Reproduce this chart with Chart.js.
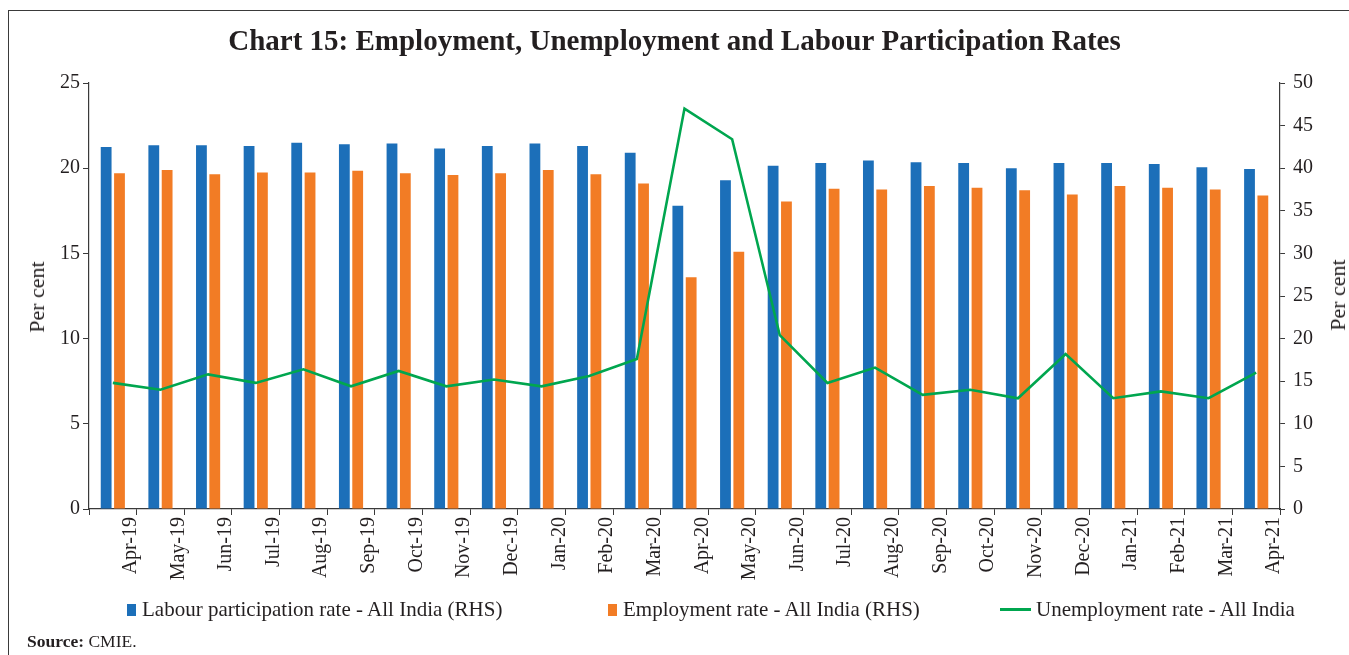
<!DOCTYPE html>
<html>
<head>
<meta charset="utf-8">
<title>Chart 15</title>
<script src="https://cdn.jsdelivr.net/npm/chart.js@4.4.1/dist/chart.umd.min.js"></script>
<style>
  html, body { margin: 0; padding: 0; background: #fff; }
  body { width: 1349px; height: 655px; position: relative; overflow: hidden;
         font-family: "Liberation Serif", "DejaVu Serif", serif; color: #231f20; }
  #frame { position: absolute; left: 8px; top: 10px; right: -2px; bottom: -2px;
           border-left: 1.5px solid #3a3a3a; border-top: 1.5px solid #3a3a3a; }
  #chart { position: absolute; left: 0; top: 0; }
  .axis-title { position: absolute; font-size: 22px; white-space: nowrap;
                transform: translate(-50%, -50%) rotate(-90deg); }
  #legend { position: absolute; top: 597px; left: 0; width: 1349px; height: 26px; font-size: 21px; }
  .item { position: absolute; top: 0; display: flex; align-items: center; white-space: nowrap; }
  .swatch { display: inline-block; margin-right: 6px; }
  #source { position: absolute; left: 27px; top: 631px; font-size: 17.5px; }
</style>
</head>
<body>
<div id="frame"></div>
<canvas id="chart" width="1349" height="655"></canvas>
<div class="axis-title" style="left:37px; top:297px;">Per cent</div>
<div class="axis-title" style="left:1338px; top:295px;">Per cent</div>
<div id="legend"></div>
<div id="source"><b>Source:</b> CMIE.</div>

<script>
// Monthly CMIE series, Apr-19 to Apr-21
const months = ['Apr-19', 'May-19', 'Jun-19', 'Jul-19', 'Aug-19', 'Sep-19', 'Oct-19', 'Nov-19',
  'Dec-19', 'Jan-20', 'Feb-20', 'Mar-20', 'Apr-20', 'May-20', 'Jun-20', 'Jul-20', 'Aug-20',
  'Sep-20', 'Oct-20', 'Nov-20', 'Dec-20', 'Jan-21', 'Feb-21', 'Mar-21', 'Apr-21'];

// right-hand scale
const labourParticipation = [42.5, 42.7, 42.7, 42.6, 43.0, 42.8, 42.9, 42.3, 42.6, 42.9, 42.6, 41.8,
  35.6, 38.6, 40.3, 40.6, 40.9, 40.7, 40.6, 40.0, 40.6, 40.6, 40.5, 40.1, 39.9];
const employmentRate = [39.4, 39.8, 39.3, 39.5, 39.5, 39.7, 39.4, 39.2, 39.4, 39.8, 39.3, 38.2,
  27.2, 30.2, 36.1, 37.6, 37.5, 37.9, 37.7, 37.4, 36.9, 37.9, 37.7, 37.5, 36.8];

// left-hand scale
const unemploymentRate = [7.4, 7.0, 7.9, 7.4, 8.2, 7.2, 8.1, 7.2, 7.6, 7.2, 7.8, 8.8,
  23.5, 21.7, 10.2, 7.4, 8.3, 6.7, 7.0, 6.5, 9.1, 6.5, 6.9, 6.5, 8.0];

const leftTicks = [0, 5, 10, 15, 20, 25];
const rightTicks = [0, 5, 10, 15, 20, 25, 30, 35, 40, 45, 50];

const BLUE = '#1c6fb9';
const ORANGE = '#f27c25';
const GREEN = '#00a64f';
const INK = '#231f20';
const AXIS = '#3a3a3a';
const tickFont = { family: "'Liberation Serif', serif", size: 20 };

const datasets = [
  {
    type: 'bar', label: 'Labour participation rate - All India (RHS)',
    data: labourParticipation, backgroundColor: BLUE, yAxisID: 'y1', order: 1,
    categoryPercentage: 0.56, barPercentage: 0.81
  },
  {
    type: 'bar', label: 'Employment rate - All India (RHS)',
    data: employmentRate, backgroundColor: ORANGE, yAxisID: 'y1', order: 2,
    categoryPercentage: 0.56, barPercentage: 0.81
  },
  {
    type: 'line', label: 'Unemployment rate - All India',
    data: unemploymentRate, borderColor: GREEN, backgroundColor: GREEN, borderWidth: 2.6,
    pointRadius: 0, tension: 0, yAxisID: 'y', order: 0
  }
];

const chart = new Chart(document.getElementById('chart'), {
  data: { labels: months, datasets: datasets },
  options: {
    responsive: false,
    animation: false,
    devicePixelRatio: 1,
    layout: { padding: 0 },
    plugins: {
      legend: { display: false },
      tooltip: { enabled: false },
      title: {
        display: true,
        text: 'Chart 15: Employment, Unemployment and Labour Participation Rates',
        color: INK,
        font: { family: "'Liberation Serif', serif", size: 29, weight: 'bold', lineHeight: 1.2 },
        padding: { top: 25.6, bottom: 22.6 }
      }
    },
    scales: {
      x: {
        offset: true,
        grid: { display: true, offset: true, drawOnChartArea: false, drawTicks: true, tickLength: 6, color: AXIS },
        border: { display: true, color: AXIS, width: 1.2 },
        ticks: {
          color: INK, font: tickFont, maxRotation: 90, minRotation: 90, autoSkip: false, padding: 2,
          // labels sit on the right-hand boundary of each month
          labelOffset: (ctx) => ctx.scale.width / months.length / 2 - 6
        },
        afterFit: (scale) => { scale.height = 146; }
      },
      y: {
        position: 'left', min: 0, max: 25,
        grid: { display: true, drawOnChartArea: false, drawTicks: true, tickLength: 6, color: AXIS },
        border: { display: true, color: AXIS, width: 1.2 },
        ticks: { color: INK, font: tickFont, padding: 3, stepSize: 5 },
        afterBuildTicks: (scale) => { scale.ticks = leftTicks.map(v => ({ value: v })); },
        afterFit: (scale) => { scale.width = 89; }
      },
      y1: {
        position: 'right', min: 0, max: 50,
        grid: { display: true, drawOnChartArea: false, drawTicks: true, tickLength: 5, color: AXIS },
        border: { display: true, color: AXIS, width: 1.2 },
        ticks: { color: INK, font: tickFont, padding: 8, stepSize: 5 },
        afterBuildTicks: (scale) => { scale.ticks = rightTicks.map(v => ({ value: v })); },
        afterFit: (scale) => { scale.width = 69; }
      }
    }
  }
});

// legend built from the chart's own datasets
const legendPos = [127, 608, 1000];
const legend = document.getElementById('legend');
chart.data.datasets.forEach((ds, i) => {
  const item = document.createElement('div');
  item.className = 'item';
  item.style.left = legendPos[i] + 'px';
  const sw = document.createElement('span');
  sw.className = 'swatch';
  if (ds.type === 'line') {
    sw.style.width = '31px'; sw.style.height = '3px'; sw.style.background = ds.borderColor;
    sw.style.marginRight = '5px';
  } else {
    sw.style.width = '9px'; sw.style.height = '12px'; sw.style.background = ds.backgroundColor;
  }
  const txt = document.createElement('span');
  txt.textContent = ds.label;
  item.appendChild(sw);
  item.appendChild(txt);
  legend.appendChild(item);
});
</script>
</body>
</html>
